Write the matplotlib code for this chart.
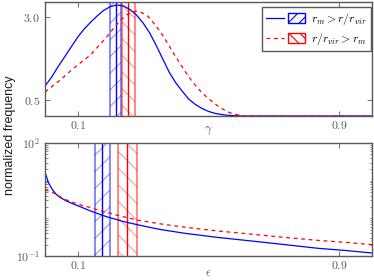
import matplotlib
matplotlib.use("Agg")
import matplotlib.pyplot as plt
from matplotlib.lines import Line2D
from matplotlib.patches import Patch
from matplotlib.legend_handler import HandlerTuple
from matplotlib.ticker import FixedLocator, LogLocator, NullFormatter, FixedFormatter

plt.rcParams['mathtext.fontset'] = 'cm'
plt.rcParams['hatch.linewidth'] = 0.8

# ---- data: top panel (gamma) ----
gamma_x_blue = [0.0, 0.02, 0.04, 0.06, 0.08, 0.10, 0.12, 0.14, 0.16, 0.18, 0.20,
                0.22, 0.24, 0.26, 0.28, 0.30, 0.32, 0.34, 0.36, 0.38, 0.40, 0.42,
                0.44, 0.46, 0.48, 0.50, 0.52, 0.54, 0.56, 0.58, 0.60, 1.0]
gamma_y_blue = [0.91, 1.18, 1.50, 1.80, 2.10, 2.40, 2.65, 2.86, 3.05, 3.22, 3.33,
                3.38, 3.35, 3.24, 3.07, 2.83, 2.53, 2.15, 1.74, 1.33, 1.01, 0.75,
                0.51, 0.35, 0.23, 0.14, 0.08, 0.045, 0.02, 0.01, 0.0, 0.0]
gamma_x_red = [0.0, 0.046, 0.087, 0.11, 0.138, 0.16, 0.189, 0.20, 0.215, 0.229,
               0.25, 0.265, 0.28, 0.295, 0.311, 0.325, 0.342, 0.357, 0.372, 0.387,
               0.403, 0.418, 0.433, 0.448, 0.464, 0.479, 0.494, 0.51, 0.525, 0.54,
               0.556, 0.57, 0.586, 0.60, 0.62, 1.0]
gamma_y_red = [0.73, 1.09, 1.45, 1.63, 1.85, 2.09, 2.41, 2.55, 2.73, 2.90,
               3.08, 3.16, 3.19, 3.15, 3.07, 2.92, 2.71, 2.50, 2.26, 2.01,
               1.75, 1.52, 1.29, 1.08, 0.88, 0.72, 0.58, 0.45, 0.33, 0.23,
               0.14, 0.08, 0.04, 0.015, 0.0, 0.0]
gamma_band_blue = [0.199, 0.216, 0.232]   # low, median, high
gamma_band_red = [0.234, 0.254, 0.275]

# ---- data: bottom panel (epsilon) ----
eps_x_blue = [0.0, 0.005, 0.010, 0.017, 0.025, 0.035, 0.046, 0.065, 0.087, 0.11,
              0.138, 0.16, 0.189, 0.215, 0.24, 0.285, 0.35, 0.428, 0.53, 0.632,
              0.735, 0.835, 0.92, 1.0]
eps_y_blue = [16.8, 12.5, 9.1, 7.0, 5.4, 4.3, 3.6, 2.9, 2.4, 2.0,
              1.58, 1.35, 1.1, 0.95, 0.82, 0.67, 0.51, 0.40, 0.31, 0.25,
              0.20, 0.16, 0.14, 0.12]
eps_x_red = [0.0, 0.015, 0.03, 0.046, 0.065, 0.087, 0.11, 0.138, 0.16, 0.189,
             0.215, 0.24, 0.285, 0.35, 0.428, 0.53, 0.632, 0.735, 0.835, 0.92, 1.0]
eps_y_red = [5.7, 5.2, 4.5, 3.76, 3.1, 2.63, 2.25, 1.95, 1.68, 1.43,
             1.25, 1.1, 0.89, 0.72, 0.58, 0.46, 0.38, 0.31, 0.26, 0.23, 0.20]
eps_band_blue = [0.153, 0.175, 0.199]
eps_band_red = [0.222, 0.252, 0.282]

labels = [r'$r_m > r/r_{vir}$', r'$r/r_{vir} > r_m$']
BLUE = '#0000ff'
RED = '#ff0000'
LBLUE = '#9999ff'
LRED = '#ff9999'

fig = plt.figure(figsize=(3.74, 2.8), dpi=100)
ax1 = fig.add_axes([45/374, 1-116/280, 327/374, 114/280])
ax2 = fig.add_axes([45/374, 1-256/280, 327/374, 113/280])

def band(ax, b, col, lcol, hatch):
    ax.axvspan(b[0], b[2], facecolor='none', edgecolor=lcol, hatch=hatch, lw=0, zorder=1)
    ax.axvline(b[0], color=col, alpha=0.55, lw=1.2, zorder=1.5)
    ax.axvline(b[2], color=col, alpha=0.55, lw=1.2, zorder=1.5)
    ax.axvline(b[1], color=col, lw=1.0, zorder=1.6)

for ax in (ax1, ax2):
    for s in ax.spines.values():
        s.set_color('0.35')
        s.set_linewidth(1.0)
    ax.tick_params(which='both', direction='in', top=True, right=True,
                   colors='0.35', labelcolor='0.35', labelsize=8.5)
    ax.tick_params(which='major', length=3.5, width=0.6)
    ax.tick_params(which='minor', length=1.8, width=0.5)
    ax.tick_params(axis='x', pad=2)

# top panel
ax1.plot(gamma_x_blue, gamma_y_blue, color=BLUE, lw=0.9, zorder=2)
ax1.plot(gamma_x_red, gamma_y_red, color=RED, lw=0.9, ls=(0, (3, 3)), zorder=2)
band(ax1, gamma_band_blue, BLUE, LBLUE, '//')
band(ax1, gamma_band_red, RED, LRED, '\\\\')
ax1.set_xlim(0, 1)
ax1.set_ylim(0, 3.47)
ax1.set_xticks([0.1, 0.9])
ax1.set_xticklabels([r'$0.1$', r'$0.9$'])
ax1.set_yticks([0.5, 3.0])
ax1.set_yticklabels([r'$0.5$', r'$3.0$'])
ax1.set_xlabel(r'$\gamma$', fontsize=9, color='0.35')
ax1.xaxis.set_label_coords(0.5, -0.123)
ax1.xaxis.label.set_va('center')

h_blue = (Line2D([], [], color=BLUE, lw=0.9),
          Patch(facecolor='none', edgecolor=BLUE, hatch='///', lw=1.0))
h_red = (Line2D([], [], color=RED, lw=0.9, ls=(0, (3, 3))),
         Patch(facecolor='none', edgecolor=RED, hatch='\\\\\\', lw=1.0))
leg = ax1.legend([h_blue, h_red], labels,
                 handler_map={tuple: HandlerTuple(ndivide=None, pad=0.3)},
                 loc='upper right', bbox_to_anchor=(1 - 1/327, 1 - 5/114),
                 borderaxespad=0, fontsize=8.5, handlelength=3.3, handleheight=0.9,
                 handletextpad=0.5, labelspacing=0.35, borderpad=0.35,
                 fancybox=False, framealpha=1)
leg.get_frame().set_edgecolor('0.35')
leg.get_frame().set_linewidth(1.0)

# bottom panel
ax2.plot(eps_x_blue, eps_y_blue, color=BLUE, lw=0.9, zorder=2)
ax2.plot(eps_x_red, eps_y_red, color=RED, lw=0.9, ls=(0, (3, 3)), zorder=2)
band(ax2, eps_band_blue, BLUE, LBLUE, '//')
band(ax2, eps_band_red, RED, LRED, '\\\\')
ax2.set_yscale('log')
ax2.set_xlim(0, 1)
ax2.set_ylim(0.1, 100)
ax2.set_xticks([0.1, 0.9])
ax2.set_xticklabels([r'$0.1$', r'$0.9$'])
ax2.yaxis.set_major_locator(FixedLocator([0.1, 100]))
ax2.yaxis.set_major_formatter(FixedFormatter([r'$10^{-1}$', r'$10^{2}$']))
ax2.yaxis.set_minor_locator(LogLocator(base=10, subs=[1, 2, 3, 4, 5, 6, 7, 8, 9], numticks=20))
ax2.yaxis.set_minor_formatter(NullFormatter())
ax2.set_xlabel(r'$\epsilon$', fontsize=9, color='0.35')
ax2.xaxis.set_label_coords(0.5, -0.15)
ax2.xaxis.label.set_va('center')

fig.text(10/374, 1-135/280, 'normalized frequency', rotation=90, ha='center', va='center',
         fontsize=9, family='Liberation Sans', color='0.1')

fig.savefig('out.png', dpi=100)
